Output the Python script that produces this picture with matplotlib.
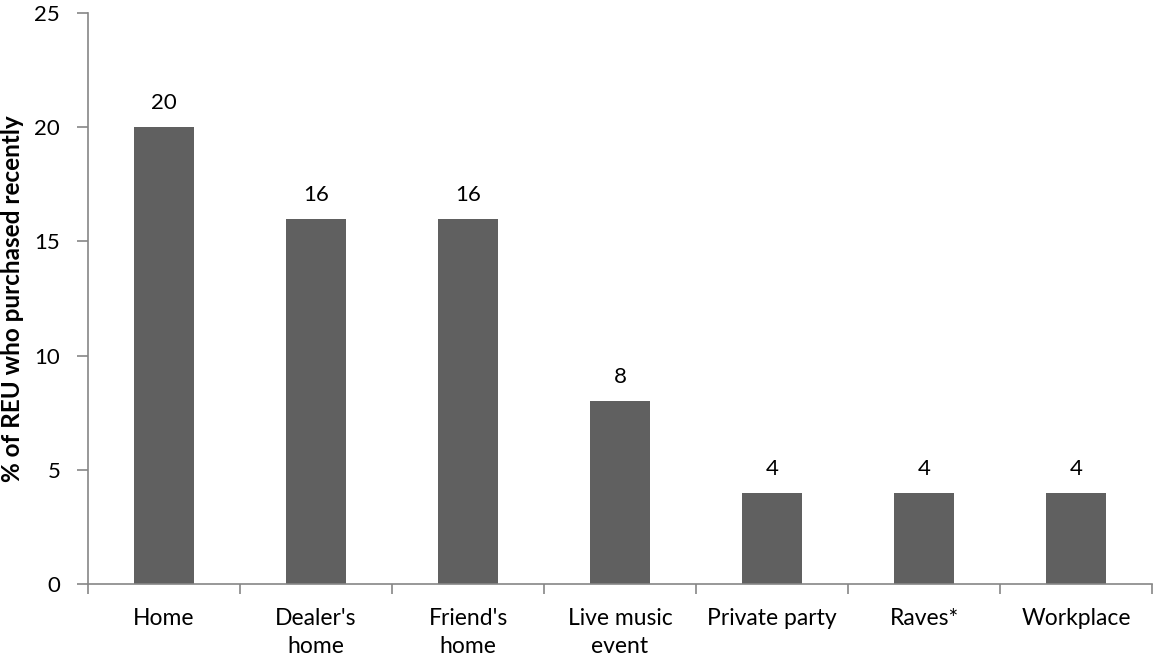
import numpy as np
import matplotlib.pyplot as plt

plt.rcParams['font.family'] = ['Lato', 'DejaVu Sans']

# data
places = ["Home", "Dealer's\nhome", "Friend's\nhome", "Live music\nevent",
          "Private party", "Raves*", "Workplace"]
percent = [20, 16, 16, 8, 4, 4, 4]

fig = plt.figure(figsize=(11.55, 6.66), dpi=100)
ax = fig.add_axes([88 / 1155, 1 - 584 / 666, 1064 / 1155, 571 / 666])

x = np.arange(len(places))
ax.bar(x, percent, width=0.4, color='#606060')

# value labels above the bars
for xi, v in zip(x, percent):
    ax.annotate(str(v), (xi, v), xytext=(0, 13), textcoords='offset points',
                ha='center', va='baseline', fontsize=16)

ax.set_xlim(-0.5, len(places) - 0.5)
ax.set_ylim(0, 25)
ax.set_yticks([0, 5, 10, 15, 20, 25])

# category labels centred, tick marks between categories
ax.set_xticks(x)
ax.set_xticklabels(places, fontsize=16.5, linespacing=1.45, va='top')
ax.tick_params(axis='x', length=0, pad=17)
ax.set_xticks(np.arange(len(places) + 1) - 0.5, minor=True)
ax.tick_params(axis='x', which='minor', length=7, color='#868686', width=1.2)
ax.tick_params(axis='y', length=8, color='#868686', width=1.2, labelsize=16, pad=12)

for side in ['top', 'right']:
    ax.spines[side].set_visible(False)
for side in ['left', 'bottom']:
    ax.spines[side].set_color('#868686')
    ax.spines[side].set_linewidth(1.2)

ax.set_ylabel('% of REU who purchased recently', fontsize=17.5, fontweight='bold')
ax.yaxis.set_label_coords(-0.06, 0.5)

plt.savefig('out.png', dpi=100)
